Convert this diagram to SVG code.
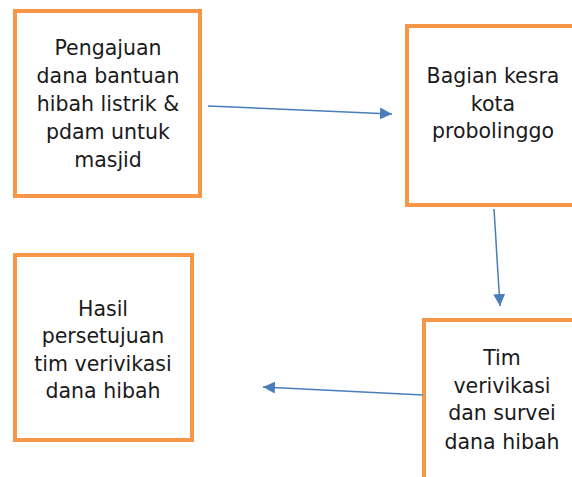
<svg xmlns="http://www.w3.org/2000/svg" width="572" height="477" viewBox="0 0 572 477">
<defs>
<style>
.box{fill:#ffffff;stroke:#F79646;stroke-width:4}
.t{font-family:"DejaVu Sans","Verdana",sans-serif;font-size:20.5px;fill:#1a1a1a;text-anchor:middle}
.c{stroke:#4A7EBB;stroke-width:1.5;fill:none}
</style>
<marker id="ah" viewBox="0 0 10 10" refX="10" refY="5" markerWidth="6" markerHeight="6" markerUnits="userSpaceOnUse" orient="auto">
<path d="M0,0 L10,5 L0,10 z" fill="#4A7EBB"/>
</marker>
<marker id="a" viewBox="0 0 12 12" refX="12" refY="6" markerWidth="12" markerHeight="12" markerUnits="userSpaceOnUse" orient="auto">
<path d="M0,0 L12,6 L0,12 z" fill="#4A7EBB"/>
</marker>
</defs>
<rect width="572" height="477" fill="#ffffff"/>
<g id="n1">
<rect class="box" x="15" y="11" width="185" height="185"/>
<text class="t" x="108" y="55">Pengajuan</text>
<text class="t" x="108" y="83">dana bantuan</text>
<text class="t" x="108" y="111">hibah listrik &amp;</text>
<text class="t" x="108" y="139">pdam untuk</text>
<text class="t" x="108" y="167">masjid</text>
</g>
<g id="n2">
<rect class="box" x="407" y="26" width="173" height="179"/>
<text class="t" x="493" y="83">Bagian kesra</text>
<text class="t" x="493" y="111">kota</text>
<text class="t" x="493" y="138">probolinggo</text>
</g>
<g id="n3">
<rect class="box" x="15" y="255" width="177" height="185"/>
<text class="t" x="103" y="316">Hasil</text>
<text class="t" x="103" y="343">persetujuan</text>
<text class="t" x="103" y="371">tim verivikasi</text>
<text class="t" x="103" y="398">dana hibah</text>
</g>
<g id="n4">
<rect class="box" x="424" y="320" width="156" height="170"/>
<text class="t" x="502" y="365">Tim</text>
<text class="t" x="502" y="393">verivikasi</text>
<text class="t" x="502" y="420">dan survei</text>
<text class="t" x="502" y="449">dana hibah</text>
</g>
<g id="connectors">
<line class="c" x1="208" y1="106" x2="392" y2="114" marker-end="url(#a)"/>
<line class="c" x1="494" y1="209" x2="500" y2="306" marker-end="url(#a)"/>
<line class="c" x1="423" y1="395" x2="263" y2="387" marker-end="url(#a)"/>
</g>
</svg>
